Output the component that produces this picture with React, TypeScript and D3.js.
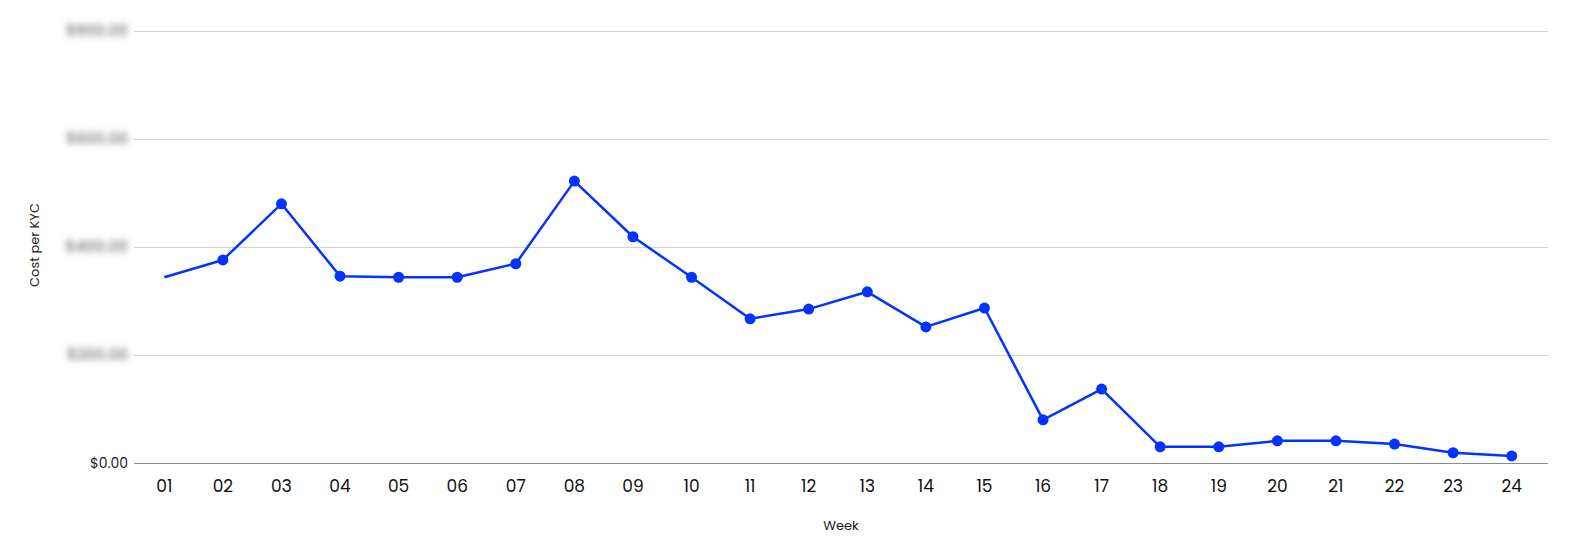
import { useEffect, useRef } from 'react';
import * as d3 from 'd3';

// data
const weeks = ['01', '02', '03', '04', '05', '06', '07', '08', '09', '10', '11', '12',
  '13', '14', '15', '16', '17', '18', '19', '20', '21', '22', '23', '24'];
const costPerKyc = [344, 376, 480, 346, 344, 344, 369, 522, 419, 344, 267, 285,
  317, 252, 287, 80, 137, 30, 30, 41, 41, 35, 19, 13];
const yTicks = [0, 200, 400, 600, 800];

const WIDTH = 1569;
const HEIGHT = 546;
const MARGIN = { top: 31, right: 21, bottom: 83, left: 134 };
const FONT = 'Poppins, Inter, "Open Sans", sans-serif';
const LINE = '#0433ff';

export default function App() {
  const svgRef = useRef<SVGSVGElement>(null);

  useEffect(() => {
    if (!svgRef.current) return;
    const svg = d3.select(svgRef.current);
    svg.selectAll('*').remove();

    const innerWidth = WIDTH - MARGIN.left - MARGIN.right;
    const innerHeight = HEIGHT - MARGIN.top - MARGIN.bottom;

    // point scale: week centres, slightly narrower than the gridlines
    const x = d3.scalePoint<string>().domain(weeks).range([1, 1407]).padding(0.5);
    const y = d3.scaleLinear().domain([0, 800]).range([innerHeight, 0]);

    const defs = svg.append('defs');
    defs.append('filter')
      .attr('id', 'blurLabel')
      .attr('x', '-20%').attr('y', '-60%').attr('width', '140%').attr('height', '220%')
      .append('feGaussianBlur')
      .attr('stdDeviation', 3);

    const g = svg.append('g').attr('transform', `translate(${MARGIN.left},${MARGIN.top})`);

    // gridlines
    g.selectAll('.grid')
      .data(yTicks.filter((t) => t > 0))
      .enter()
      .append('line')
      .attr('x1', 0)
      .attr('x2', innerWidth)
      .attr('y1', (d) => y(d) + 0.5)
      .attr('y2', (d) => y(d) + 0.5)
      .attr('stroke', '#d2d2d2')
      .attr('stroke-width', 1);

    // baseline
    g.append('line')
      .attr('x1', 0)
      .attr('x2', innerWidth)
      .attr('y1', y(0) + 0.5)
      .attr('y2', y(0) + 0.5)
      .attr('stroke', '#8a8a8a')
      .attr('stroke-width', 1);

    // y tick labels (blurred apart from zero, as in the original)
    g.selectAll('.ylab')
      .data(yTicks)
      .enter()
      .append('text')
      .attr('x', -6)
      .attr('y', (d) => y(d) + 5)
      .attr('text-anchor', 'end')
      .attr('font-family', FONT)
      .attr('font-size', (d) => (d === 0 ? 14 : 15))
      .attr('font-weight', (d) => (d === 0 ? 400 : 600))
      .attr('fill', (d) => (d === 0 ? '#222' : '#8a8a8a'))
      .attr('filter', (d) => (d === 0 ? null : 'url(#blurLabel)'))
      .text((d) => `$${d3.format(',.2f')(d)}`);

    // x tick labels
    g.selectAll('.xlab')
      .data(weeks)
      .enter()
      .append('text')
      .attr('x', (d) => x(d)!)
      .attr('y', innerHeight + 29)
      .attr('text-anchor', 'middle')
      .attr('font-family', FONT)
      .attr('font-size', 17)
      .attr('fill', '#111')
      .text((d) => d);

    // axis titles
    g.append('text')
      .attr('x', innerWidth / 2)
      .attr('y', innerHeight + 67)
      .attr('text-anchor', 'middle')
      .attr('font-family', FONT)
      .attr('font-size', 13)
      .attr('fill', '#222')
      .text('Week');

    g.append('text')
      .attr('transform', 'rotate(-90)')
      .attr('x', -(y(0) + y(800)) / 2 + 2)
      .attr('y', -95)
      .attr('text-anchor', 'middle')
      .attr('font-family', FONT)
      .attr('font-size', 13)
      .attr('fill', '#222')
      .text('Cost per KYC');

    const points = weeks.map((w, i) => ({ week: w, value: costPerKyc[i] }));

    const line = d3.line<{ week: string; value: number }>()
      .x((d) => x(d.week)!)
      .y((d) => y(d.value));

    g.append('path')
      .datum(points)
      .attr('d', line)
      .attr('fill', 'none')
      .attr('stroke', LINE)
      .attr('stroke-width', 2.5)
      .attr('stroke-linejoin', 'round');

    // first week has no marker in the original
    g.selectAll('.dot')
      .data(points.slice(1))
      .enter()
      .append('circle')
      .attr('cx', (d) => x(d.week)!)
      .attr('cy', (d) => y(d.value))
      .attr('r', 5.5)
      .attr('fill', LINE);
  }, []);

  return (
    <svg
      ref={svgRef}
      width={WIDTH}
      height={HEIGHT}
      style={{ position: 'absolute', left: 0, top: 0, background: '#fff' }}
    />
  );
}
